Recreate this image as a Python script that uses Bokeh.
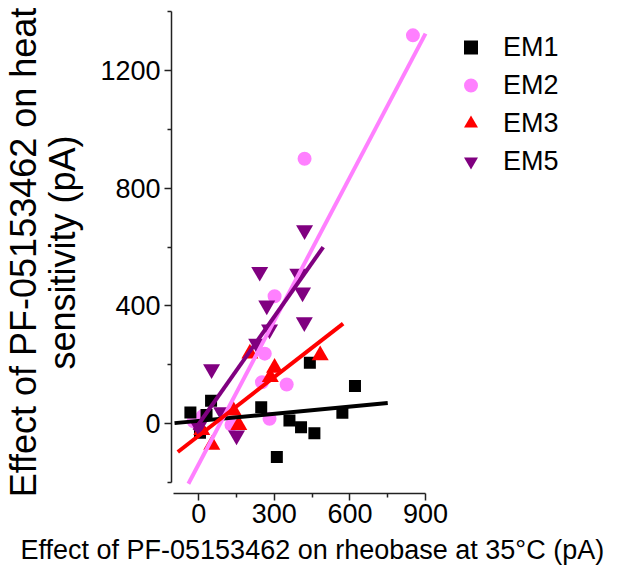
from bokeh.plotting import figure
from bokeh.models import Legend, LegendItem, FixedTicker, Range1d, Title
from bokeh.embed import file_html
from bokeh.resources import INLINE

# ---- data ----
em1_x = [-33, 5, 31, 49, 248, 310, 360, 406, 441, 459, 570, 620]
em1_y = [38, -31, 30, 78, 56, -113, 11, -12, 207, -32, 37, 128]

em2_x = [-20, 15, 130, 251, 262, 281, 301, 349, 420, 850]
em2_y = [8, 25, -4, 141, 238, 17, 433, 133, 900, 1319]

em3_x = [12, 52, 137, 159, 203, 284, 301, 482]
em3_y = [-22, -72, 45, -5, 238, 158, 190, 232]

em5_x = [0, 51, 91, 150, 230, 242, 270, 281, 393, 412, 419, 420]
em5_y = [-10, 185, 39, -40, 272, 516, 402, 320, 510, 446, 345, 657]

# linear-fit line end points
em1_fit_x = [-96, 750]
em1_fit_y = [2, 70]
em2_fit_x = [-41, 900]
em2_fit_y = [-204, 1325]
em3_fit_x = [-83, 573]
em3_fit_y = [-96, 340]
em5_fit_x = [-18, 494]
em5_fit_y = [-23, 600]

x_ticks = [0, 300, 600, 900]
x_minor = [150, 450, 750]
y_ticks = [0, 400, 800, 1200]
y_minor = [-200, 200, 600, 1000, 1400]

series_names = ["EM1", "EM2", "EM3", "EM5"]
x_title = "Effect of PF-05153462 on rheobase at 35°C (pA)"
y_title = "Effect of PF-05153462 on heat\nsensitivity (pA)"

C_EM1 = "#000000"
C_EM2 = "#FF80FF"
C_EM3 = "#FF0000"
C_EM5 = "#800080"
FONT = "Liberation Sans"

p = figure(width=611, height=573, output_backend="svg", toolbar_location=None,
           x_range=Range1d(-108, 1622), y_range=Range1d(-237, 1400),
           min_border_left=168, min_border_right=4, min_border_top=11, min_border_bottom=80)
p.outline_line_color = None
p.xgrid.visible = False
p.ygrid.visible = False
p.background_fill_color = "white"

r2 = p.scatter(em2_x, em2_y, marker="circle", size=14, fill_color=C_EM2, line_color=None)
r1 = p.scatter(em1_x, em1_y, marker="square", size=12, fill_color=C_EM1, line_color=None)
r3 = p.scatter(em3_x, em3_y, marker="triangle", size=17, fill_color=C_EM3, line_color=None)
r5 = p.scatter(em5_x, em5_y, marker="inverted_triangle", size=17, fill_color=C_EM5, line_color=None)

p.line(em1_fit_x, em1_fit_y, line_width=4, line_color=C_EM1)
p.line(em2_fit_x, em2_fit_y, line_width=4, line_color=C_EM2)
p.line(em5_fit_x, em5_fit_y, line_width=4, line_color=C_EM5)
p.line(em3_fit_x, em3_fit_y, line_width=4, line_color=C_EM3)

xa = p.xaxis[0]
ya = p.yaxis[0]
xa.ticker = FixedTicker(ticks=x_ticks, minor_ticks=x_minor)
ya.ticker = FixedTicker(ticks=y_ticks, minor_ticks=y_minor)
xa.bounds = (-100, 900)
ya.bounds = (-200, 1400)
for ax in (xa, ya):
    ax.axis_line_width = 1.5
    ax.axis_line_color = "#222222"
    ax.major_tick_line_width = 1.5
    ax.minor_tick_line_width = 1.5
    ax.major_tick_line_color = "#222222"
    ax.minor_tick_line_color = "#222222"
    ax.major_tick_out = 7
    ax.major_tick_in = 0
    ax.minor_tick_out = 4
    ax.minor_tick_in = 0
    ax.major_label_text_font = FONT
    ax.major_label_text_font_size = "27px"
    ax.major_label_text_color = "black"
    ax.axis_label_text_font = FONT
    ax.axis_label_text_font_style = "normal"
    ax.axis_label_text_color = "black"

xa.major_label_standoff = 3
ya.major_label_standoff = 4
ya.axis_label = y_title
ya.axis_label_text_font_size = "36px"
ya.axis_label_text_line_height = 0.95
ya.axis_label_standoff = 14

xt = Title(text=x_title, align="left", offset=-151, standoff=14,
           text_font=FONT, text_font_size="27px", text_font_style="normal", text_color="black")
p.add_layout(xt, "below")

legend = Legend(items=[LegendItem(label=n, renderers=[r]) for n, r in zip(series_names, [r1, r2, r3, r5])],
                location=(282, 313), glyph_width=35, glyph_height=38, label_height=38,
                spacing=0, padding=0, margin=0, label_standoff=15,
                border_line_color=None, background_fill_alpha=0,
                label_text_font=FONT, label_text_font_size="27px", label_text_color="black")
p.add_layout(legend)

open("out.html", "w").write(file_html(p, INLINE))
